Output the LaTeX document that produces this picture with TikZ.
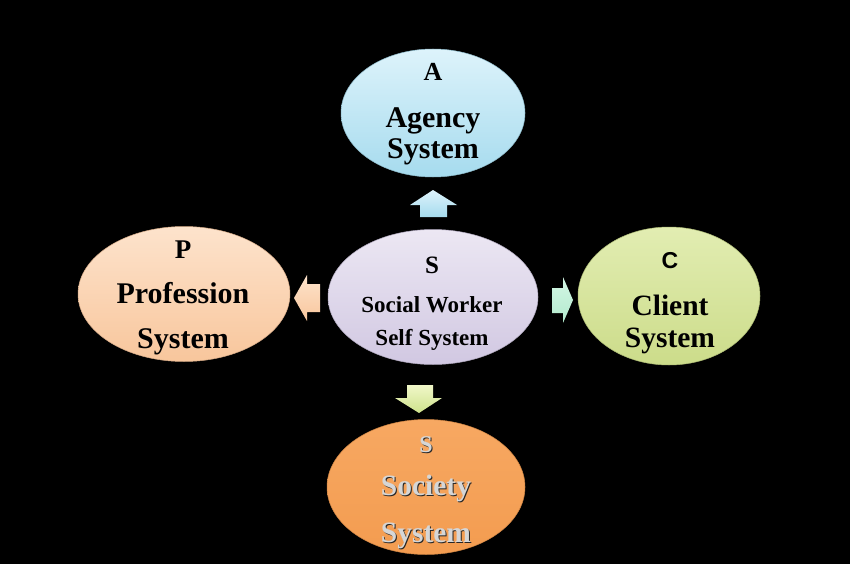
\documentclass[tikz,border=0pt]{standalone}
\usepackage{fontspec}
\setmainfont{Liberation Serif}
\newfontfamily\arialfont{Liberation Sans}
\usetikzlibrary{shapes.geometric}
\definecolor{aTop}{HTML}{DDF3FB}\definecolor{aBot}{HTML}{A6DBEE}
\definecolor{pTop}{HTML}{FDE3CC}\definecolor{pBot}{HTML}{F8C69C}
\definecolor{sTop}{HTML}{ECE7F3}\definecolor{sBot}{HTML}{D1C8E2}
\definecolor{cTop}{HTML}{E2EDB2}\definecolor{cBot}{HTML}{CCDC8A}
\definecolor{oTop}{HTML}{F7A862}\definecolor{oBot}{HTML}{F39C50}
\definecolor{mTop}{HTML}{D4F6E5}\definecolor{mBot}{HTML}{B2EACD}
\definecolor{yTop}{HTML}{F0F7C8}\definecolor{yBot}{HTML}{CEE28C}
\definecolor{socText}{HTML}{D6D6D6}
\begin{document}
\begin{tikzpicture}[x=1pt,y=-1pt]
\tikzset{
  oval/.style n args={2}{ellipse, inner sep=0pt, top color=#1, bottom color=#2, draw=#2!85!black, line width=0.5pt},
  lbl/.style={anchor=base, font=\bfseries, inner sep=0pt, text=black},
  blockarrow/.style n args={2}{top color=#1, bottom color=#2, draw=none},
}
\fill[black] (0,0) rectangle (850,564);
\useasboundingbox (0,0) rectangle (850,564);

% ellipses
\node[oval={aTop}{aBot}, minimum width=184pt, minimum height=128pt] (agency) at (433,113) {};
\node[oval={pTop}{pBot}, minimum width=212pt, minimum height=135pt] (prof) at (184,294) {};
\node[oval={sTop}{sBot}, minimum width=210pt, minimum height=135pt] (self) at (433,297) {};
\node[oval={cTop}{cBot}, minimum width=182pt, minimum height=138pt] (client) at (669,296) {};
\node[oval={oTop}{oBot}, minimum width=198pt, minimum height=135pt] (society) at (426,487) {};

% texts
\node[lbl, font=\bfseries\fontsize{26}{26}\selectfont] (aL) at (433,81) {A};
\node[lbl, font=\bfseries\fontsize{30}{30}\selectfont] (aT1) at (433,128) {Agency};
\node[lbl, font=\bfseries\fontsize{30}{30}\selectfont] (aT2) at (433,158) {System};

\node[lbl, font=\bfseries\fontsize{27}{27}\selectfont] (pL) at (183,258) {P};
\node[lbl, font=\bfseries\fontsize{30}{30}\selectfont] (pT1) at (183,303) {Profession};
\node[lbl, font=\bfseries\fontsize{30}{30}\selectfont] (pT2) at (183,348) {System};

\node[lbl, font=\bfseries\fontsize{25}{25}\selectfont] (sL) at (432,273) {S};
\node[lbl, font=\bfseries\fontsize{23}{23}\selectfont] (sT1) at (432,312) {Social Worker};
\node[lbl, font=\bfseries\fontsize{23}{23}\selectfont] (sT2) at (432,345) {Self System};

\node[lbl, font=\arialfont\bfseries\fontsize{23}{23}\selectfont] (cL) at (670,268) {C};
\node[lbl, font=\bfseries\fontsize{29.5}{29.5}\selectfont] (cT1) at (670,315) {Client};
\node[lbl, font=\bfseries\fontsize{29.5}{29.5}\selectfont] (cT2) at (670,347) {System};

\foreach \nm/\t/\yy/\fs in {soL/S/452/24, soT1/Society/495/29.5, soT2/System/542/29.5}{
  \node[lbl, text=black!85, font=\bfseries\fontsize{\fs}{\fs}\selectfont] (\nm s) at (427,\yy+1) {\t};
  \node[lbl, text=socText, font=\bfseries\fontsize{\fs}{\fs}\selectfont] (\nm) at (426,\yy) {\t};
}

% block arrows
\fill[blockarrow={aTop}{aBot}] (433,190) -- (457,205) -- (447,205) -- (447,217) -- (420,217) -- (420,205) -- (410,205) -- cycle;
\fill[blockarrow={pTop}{pBot}] (294,298) -- (307,275) -- (307,284) -- (320,284) -- (320,312) -- (307,312) -- (307,321) -- cycle;
\fill[blockarrow={mTop}{mBot}] (573,300) -- (563,277) -- (563,288) -- (552,288) -- (552,313) -- (563,313) -- (563,323) -- cycle;
\fill[blockarrow={yTop}{yBot}] (419,413) -- (395,398) -- (407,398) -- (407,385) -- (433,385) -- (433,398) -- (442,398) -- cycle;
\end{tikzpicture}
\end{document}
